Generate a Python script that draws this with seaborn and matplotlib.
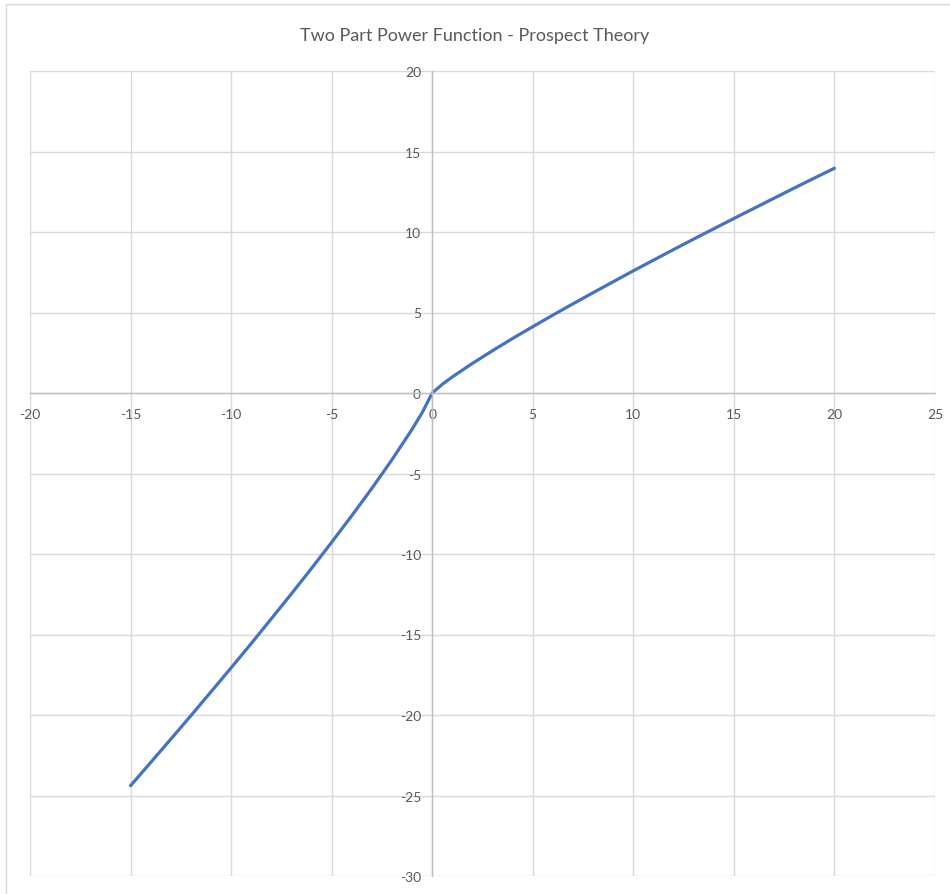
import numpy as np
import pandas as pd
import seaborn as sns
import matplotlib.pyplot as plt
from matplotlib.patches import Rectangle

# values (gain / loss -> subjective value)
outcome = [-15, -14, -13, -12, -11, -10, -9, -8, -7, -6, -5, -4, -3, -2, -1, -0.5,
           0, 0.5, 1, 2, 3, 4, 5, 6, 7, 8, 9, 10, 11, 12, 13, 14, 15, 16, 17, 18, 19, 20]
value = [-24.39, -22.95, -21.50, -20.04, -18.56, -17.07, -15.56, -14.02, -12.47, -10.89,
         -9.27, -7.62, -5.92, -4.14, -2.25, -1.22,
         0.0, 0.54, 1.0, 1.84, 2.63, 3.39, 4.12, 4.84, 5.54, 6.23, 6.91, 7.59, 8.25,
         8.91, 9.56, 10.20, 10.84, 11.47, 12.10, 12.73, 13.35, 13.96]
x_ticks = list(range(-20, 30, 5))
y_ticks = list(range(-30, 25, 5))

df = pd.DataFrame({"x": outcome, "v": value})

sns.set_style("white")
plt.rcParams["font.family"] = ["Lato", "DejaVu Sans"]
plt.rcParams["axes.unicode_minus"] = False

W, H = 950, 895
fig = plt.figure(figsize=(W / 100, H / 100), dpi=100)
ax = fig.add_axes([30 / W, 1 - 877 / H, (935 - 30) / W, (877 - 72) / H])

sns.lineplot(data=df, x="x", y="v", ax=ax, color="#4472C4", linewidth=2.3,
             sort=False, estimator=None)

ax.set_xlim(-20, 25)
ax.set_ylim(-30, 20)
ax.set_xticks(x_ticks)
ax.set_yticks(y_ticks)
ax.set_xlabel("")
ax.set_ylabel("")

ax.grid(True, color="#d9d9d9", linewidth=1)
ax.set_axisbelow(True)
for gl in ax.get_xgridlines() + ax.get_ygridlines():
    gl.set_clip_on(False)

for side in ["top", "right"]:
    ax.spines[side].set_visible(False)
ax.spines["left"].set_position(("data", 0))
ax.spines["bottom"].set_position(("data", 0))
for side in ["left", "bottom"]:
    ax.spines[side].set_color("#bfbfbf")
    ax.spines[side].set_linewidth(1)

ax.tick_params(axis="x", length=0, pad=11, labelsize=10, labelcolor="#595959")
ax.tick_params(axis="y", length=0, pad=8, labelsize=10, labelcolor="#595959")

fig.text(0.5, 1 - 36 / H, "Two Part Power Function - Prospect Theory",
         ha="center", va="center", fontsize=13, color="#595959")

# chart area border
fig.patches.append(Rectangle((6 / W, -0.1), 1.2, 1 - 5 / H + 0.1,
                             transform=fig.transFigure, fill=False,
                             edgecolor="#d9d9d9", linewidth=1))

fig.savefig("out.png", dpi=100)
